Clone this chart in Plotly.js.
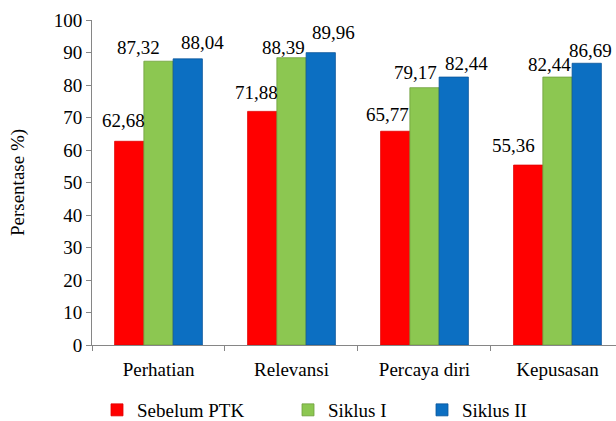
<!DOCTYPE html>
<html>
<head>
<meta charset="utf-8">
<script src="https://cdn.plot.ly/plotly-3.0.1.min.js"></script>
<style>html,body{margin:0;padding:0;background:#fff;}#chart{width:616px;height:421px;}</style>
</head>
<body>
<div id="chart"></div>
<script>
var categories = ["Perhatian", "Relevansi", "Percaya diri", "Kepusasan"];
var sebelumPTK = [62.68, 71.88, 65.77, 55.36];
var siklusI = [87.32, 88.39, 79.17, 82.44];
var siklusII = [88.04, 89.96, 82.44, 86.69];
var seriesNames = ["Sebelum PTK", "Siklus I", "Siklus II"];
var yTicks = [0, 10, 20, 30, 40, 50, 60, 70, 80, 90, 100];

// label nudges (px) as in the reference, per series / category
var labelDx = [[-6, -6, -8, -15], [-20, -8, -9, -8], [15, 13, 13, 4]];
var labelDy = [[8, 6, 4, 7], [1, -2, 3, 0], [4, 8, 1, 0]];

function fmt(v) { return v.toFixed(2).replace('.', ','); }

var font = "'Liberation Serif', 'Times New Roman', 'DejaVu Serif', serif";
var fs = 19;
var colors = ['#ff0000', '#8cc751', '#0c6fc2'];
var lineColors = ['#e00000', '#6f9e3c', '#0a5699'];
var allSeries = [sebelumPTK, siklusI, siklusII];

var margin = {l: 92, r: 0, t: 20, b: 76};
var xRange = [-0.5, 3.44];
var bargap = 0.34;
var plotW = 616 - margin.l - margin.r;
var catPx = plotW / (xRange[1] - xRange[0]);
var barPx = catPx * (1 - bargap) / 3;

var data = [];
var annotations = [];
var legendNames = ['legend', 'legend2', 'legend3'];
allSeries.forEach(function (vals, s) {
  data.push({
    type: 'bar', name: seriesNames[s], x: categories, y: vals,
    marker: {color: colors[s], line: {color: lineColors[s], width: 0.8}},
    legend: legendNames[s], hoverinfo: 'skip'
  });
  vals.forEach(function (v, i) {
    annotations.push({
      x: categories[i], y: v, xref: 'x', yref: 'y', text: fmt(v), showarrow: false,
      xanchor: 'center', yanchor: 'bottom',
      xshift: (s - 1) * barPx + labelDx[s][i], yshift: labelDy[s][i],
      font: {family: font, size: fs, color: '#000'}
    });
  });
});

var legendX = [97, 288, 422];
var layout = {
  width: 616, height: 421,
  margin: margin,
  paper_bgcolor: '#fff', plot_bgcolor: '#fff',
  font: {family: font, size: fs, color: '#000'},
  barmode: 'group', bargap: bargap, bargroupgap: 0,
  showlegend: true,
  annotations: annotations,
  xaxis: {type: 'category', range: xRange, showline: true, linecolor: '#868686', linewidth: 1,
          ticks: 'outside', tickson: 'boundaries', ticklen: 5, tickcolor: '#868686',
          ticklabelstandoff: 7,
          showgrid: false, zeroline: false, tickfont: {family: font, size: fs}, fixedrange: true},
  yaxis: {range: [0, 100], tickvals: yTicks, ticktext: yTicks.map(String), showline: true,
          linecolor: '#868686', linewidth: 1, ticks: 'outside', ticklen: 5, tickcolor: '#868686',
          showgrid: false, zeroline: false, tickfont: {family: font, size: fs},
          title: {text: 'Persentase %)', font: {family: font, size: fs}, standoff: 24}}
};
legendNames.forEach(function (ln, s) {
  layout[ln] = {orientation: 'h', xref: 'container', yref: 'container',
    x: legendX[s] / 616, y: 11 / 421, xanchor: 'left', yanchor: 'middle',
    font: {family: font, size: fs, color: '#000'}, itemwidth: 30, bgcolor: 'rgba(0,0,0,0)'};
});
Plotly.newPlot('chart', data, layout, {displayModeBar: false, staticPlot: true});
</script>
</body>
</html>
